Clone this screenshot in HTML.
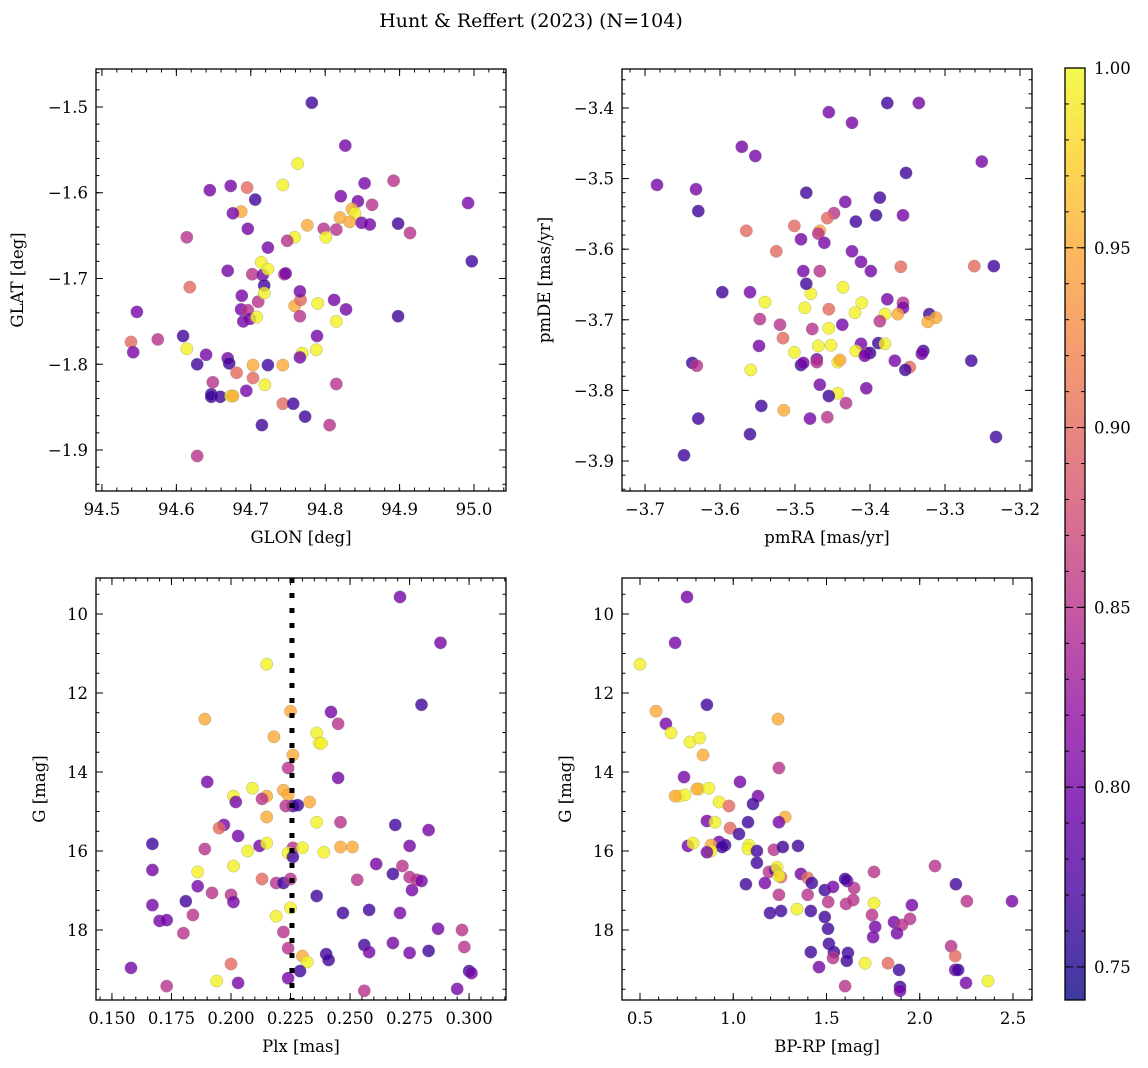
<!DOCTYPE html>
<html><head><meta charset="utf-8"><style>
body{margin:0;background:#fff;}
svg{display:block;font-family:"DejaVu Serif","Liberation Serif",serif;}
</style></head><body>
<svg id="fig" width="1148" height="1068" xmlns="http://www.w3.org/2000/svg">
<text x="531" y="27" font-size="19" text-anchor="middle">Hunt &amp; Reffert (2023) (N=104)</text>
</svg>
<script>
// ---- Panel 1: GLON vs GLAT ----
const p1_glon=[94.782,94.827,94.763,94.743,94.695,94.645,94.673,94.892,94.853,94.821,94.844,94.863,94.836,94.840,94.820,94.833,94.849,94.860,94.898,94.914,94.992,94.997,94.706,94.687,94.676,94.614,94.696,94.776,94.759,94.749,94.798,94.815,94.801,94.723,94.669,94.714,94.702,94.716,94.618,94.723,94.745,94.747,94.759,94.767,94.718,94.688,94.687,94.696,94.710,94.699,94.718,94.708,94.690,94.790,94.766,94.766,94.789,94.812,94.828,94.815,94.769,94.766,94.788,94.898,94.539,94.542,94.575,94.547,94.609,94.614,94.628,94.640,94.669,94.671,94.681,94.703,94.723,94.743,94.703,94.719,94.649,94.647,94.647,94.659,94.673,94.676,94.694,94.743,94.757,94.773,94.815,94.715,94.806,94.628];
const p1_glat=[-1.495,-1.545,-1.566,-1.591,-1.594,-1.597,-1.592,-1.586,-1.589,-1.604,-1.610,-1.614,-1.619,-1.624,-1.629,-1.634,-1.635,-1.637,-1.636,-1.647,-1.612,-1.680,-1.608,-1.622,-1.624,-1.652,-1.642,-1.638,-1.652,-1.656,-1.642,-1.643,-1.652,-1.664,-1.691,-1.681,-1.695,-1.696,-1.710,-1.689,-1.695,-1.694,-1.732,-1.725,-1.708,-1.720,-1.736,-1.737,-1.727,-1.747,-1.717,-1.745,-1.750,-1.729,-1.715,-1.744,-1.767,-1.725,-1.736,-1.750,-1.787,-1.792,-1.783,-1.744,-1.774,-1.786,-1.771,-1.739,-1.767,-1.782,-1.800,-1.789,-1.793,-1.799,-1.810,-1.801,-1.801,-1.801,-1.816,-1.824,-1.821,-1.835,-1.838,-1.838,-1.837,-1.837,-1.831,-1.846,-1.846,-1.861,-1.823,-1.871,-1.871,-1.907];
const p1_prob=[0.765,0.80,0.995,0.995,0.90,0.80,0.80,0.85,0.80,0.80,0.80,0.85,0.95,0.995,0.95,0.95,0.80,0.80,0.765,0.85,0.80,0.765,0.765,0.95,0.80,0.85,0.80,0.95,0.995,0.85,0.85,0.85,0.995,0.80,0.80,0.995,0.85,0.80,0.90,0.995,0.85,0.80,0.95,0.90,0.765,0.80,0.80,0.85,0.85,0.80,0.995,0.995,0.80,0.995,0.80,0.85,0.80,0.80,0.80,0.995,0.995,0.80,0.995,0.765,0.90,0.80,0.85,0.80,0.765,0.995,0.765,0.80,0.80,0.765,0.90,0.95,0.765,0.95,0.90,0.995,0.85,0.765,0.765,0.765,0.995,0.95,0.80,0.90,0.765,0.765,0.85,0.765,0.85,0.85];
// ---- Panel 2: pmRA vs pmDE ----
const p2_pmra=[-3.684,-3.632,-3.629,-3.571,-3.553,-3.455,-3.424,-3.377,-3.335,-3.251,-3.352,-3.485,-3.433,-3.387,-3.392,-3.356,-3.448,-3.457,-3.419,-3.565,-3.501,-3.467,-3.469,-3.492,-3.461,-3.525,-3.424,-3.412,-3.399,-3.261,-3.235,-3.359,-3.489,-3.467,-3.436,-3.479,-3.485,-3.560,-3.540,-3.597,-3.411,-3.377,-3.356,-3.356,-3.487,-3.455,-3.420,-3.380,-3.363,-3.321,-3.312,-3.323,-3.437,-3.387,-3.520,-3.455,-3.477,-3.547,-3.516,-3.389,-3.380,-3.412,-3.452,-3.469,-3.501,-3.419,-3.405,-3.400,-3.407,-3.329,-3.331,-3.548,-3.471,-3.443,-3.440,-3.492,-3.489,-3.471,-3.367,-3.347,-3.353,-3.265,-3.637,-3.631,-3.559,-3.467,-3.405,-3.443,-3.455,-3.432,-3.457,-3.480,-3.629,-3.545,-3.515,-3.560,-3.232,-3.648];
const p2_pmde=[-3.509,-3.515,-3.546,-3.455,-3.468,-3.406,-3.421,-3.393,-3.393,-3.476,-3.492,-3.520,-3.533,-3.527,-3.552,-3.552,-3.549,-3.556,-3.561,-3.574,-3.567,-3.574,-3.578,-3.586,-3.591,-3.603,-3.603,-3.618,-3.631,-3.624,-3.624,-3.625,-3.631,-3.631,-3.654,-3.663,-3.649,-3.661,-3.675,-3.661,-3.676,-3.671,-3.676,-3.683,-3.683,-3.685,-3.690,-3.692,-3.692,-3.692,-3.697,-3.703,-3.707,-3.702,-3.707,-3.712,-3.713,-3.699,-3.726,-3.733,-3.734,-3.734,-3.736,-3.737,-3.746,-3.744,-3.747,-3.747,-3.751,-3.744,-3.748,-3.737,-3.756,-3.760,-3.757,-3.764,-3.761,-3.760,-3.758,-3.767,-3.771,-3.758,-3.761,-3.765,-3.771,-3.792,-3.797,-3.804,-3.808,-3.818,-3.838,-3.840,-3.840,-3.822,-3.828,-3.862,-3.866,-3.892];
const p2_prob=[0.80,0.80,0.765,0.80,0.80,0.80,0.80,0.765,0.80,0.80,0.765,0.765,0.80,0.765,0.765,0.80,0.85,0.90,0.765,0.90,0.90,0.95,0.85,0.80,0.80,0.90,0.80,0.80,0.80,0.90,0.765,0.90,0.80,0.85,0.995,0.995,0.765,0.80,0.995,0.765,0.995,0.80,0.85,0.80,0.995,0.90,0.995,0.995,0.95,0.765,0.95,0.95,0.80,0.85,0.85,0.995,0.85,0.85,0.90,0.765,0.995,0.80,0.995,0.995,0.995,0.995,0.85,0.765,0.80,0.765,0.80,0.80,0.80,0.995,0.95,0.765,0.80,0.85,0.80,0.90,0.765,0.765,0.765,0.85,0.995,0.80,0.80,0.995,0.765,0.85,0.85,0.80,0.765,0.765,0.95,0.765,0.765,0.765];
// ---- Panel 3: Plx vs G ----
const p3_plx=[0.271,0.288,0.215,0.280,0.189,0.225,0.242,0.245,0.218,0.236,0.237,0.238,0.224,0.226,0.190,0.245,0.209,0.201,0.222,0.215,0.224,0.233,0.213,0.202,0.226,0.228,0.223,0.215,0.236,0.246,0.197,0.195,0.203,0.283,0.212,0.215,0.226,0.189,0.167,0.207,0.224,0.226,0.239,0.230,0.246,0.251,0.275,0.269,0.261,0.272,0.275,0.268,0.253,0.167,0.201,0.186,0.186,0.192,0.200,0.201,0.213,0.219,0.222,0.225,0.236,0.276,0.278,0.280,0.181,0.167,0.219,0.225,0.184,0.247,0.258,0.271,0.170,0.173,0.180,0.222,0.287,0.297,0.224,0.298,0.240,0.256,0.258,0.268,0.275,0.283,0.230,0.232,0.241,0.200,0.224,0.229,0.300,0.301,0.158,0.173,0.194,0.203,0.256,0.295];
const p3_g=[9.57,10.73,11.27,12.30,12.66,12.46,12.48,12.78,13.11,13.01,13.27,13.27,13.90,13.57,14.25,14.15,14.41,14.61,14.46,14.61,14.58,14.76,14.68,14.76,14.86,14.84,14.86,15.14,15.27,15.27,15.34,15.42,15.62,15.47,15.87,15.80,15.92,15.95,15.82,16.00,16.05,16.15,16.03,15.92,15.90,15.90,15.87,15.34,16.33,16.38,16.66,16.58,16.73,16.48,16.38,16.53,16.89,17.06,17.11,17.29,16.71,16.81,16.81,16.71,17.14,16.99,16.73,16.76,17.27,17.37,17.65,17.44,17.62,17.57,17.49,17.57,17.77,17.75,18.08,18.05,17.97,18.00,18.46,18.43,18.61,18.38,18.56,18.33,18.58,18.53,18.66,18.81,18.76,18.86,19.22,19.04,19.04,19.09,18.96,19.42,19.29,19.34,19.54,19.49];
const p3_prob=[0.80,0.80,0.995,0.765,0.95,0.95,0.80,0.85,0.95,0.995,0.995,0.995,0.85,0.95,0.80,0.80,0.995,0.995,0.95,0.95,0.95,0.95,0.85,0.80,0.765,0.765,0.85,0.95,0.995,0.85,0.80,0.90,0.80,0.80,0.80,0.995,0.85,0.85,0.765,0.995,0.995,0.765,0.995,0.995,0.95,0.95,0.80,0.765,0.80,0.85,0.85,0.765,0.85,0.80,0.995,0.995,0.80,0.85,0.85,0.80,0.90,0.85,0.765,0.85,0.765,0.80,0.85,0.80,0.765,0.80,0.995,0.995,0.85,0.765,0.765,0.80,0.80,0.80,0.85,0.85,0.80,0.85,0.85,0.85,0.765,0.765,0.80,0.80,0.80,0.765,0.95,0.995,0.765,0.90,0.80,0.765,0.765,0.80,0.80,0.85,0.995,0.80,0.85,0.80];
const p3_plxRef=[0.2256];
// ---- Panel 4: BP-RP vs G ----
const p4_bprp=[0.752,0.688,0.500,0.859,0.586,1.240,0.639,0.666,0.768,0.820,0.838,1.245,0.736,1.036,0.816,0.869,0.805,0.709,0.741,0.688,1.133,0.924,0.977,1.106,1.278,1.245,1.079,0.859,0.902,0.983,1.031,0.924,0.757,0.784,0.881,1.084,0.956,0.940,0.881,0.859,1.079,1.127,1.218,1.266,1.347,1.127,1.192,1.224,1.235,1.068,1.170,1.256,1.245,1.363,1.399,1.421,1.491,1.535,1.648,1.611,1.600,1.755,2.082,2.194,1.605,1.399,1.245,1.509,1.643,1.755,1.342,1.416,1.256,1.197,1.491,1.744,1.958,2.253,2.495,1.948,1.761,1.862,1.905,1.878,1.750,1.508,1.513,1.540,1.615,1.609,1.416,1.535,1.460,1.707,1.830,2.168,2.190,2.190,1.889,2.206,2.248,2.366,1.894,1.894,1.600];
const p4_g=[9.57,10.73,11.27,12.30,12.46,12.66,12.78,13.01,13.24,13.14,13.57,13.90,14.13,14.25,14.43,14.41,14.43,14.61,14.58,14.61,14.61,14.76,14.86,14.81,15.14,15.27,15.27,15.24,15.27,15.42,15.57,15.77,15.87,15.80,15.85,15.85,15.85,15.90,16.00,16.03,15.95,16.00,15.97,15.90,15.87,16.30,16.53,16.48,16.41,16.84,16.81,16.66,16.63,16.58,16.68,16.81,16.99,16.91,16.94,16.76,16.71,16.53,16.38,16.84,17.34,17.11,17.11,17.29,17.24,17.32,17.47,17.52,17.52,17.57,17.67,17.62,17.37,17.27,17.27,17.72,17.92,17.80,17.87,18.08,18.18,17.97,18.35,18.56,18.58,18.78,18.56,18.71,18.94,18.84,18.84,18.41,18.66,19.01,19.01,19.01,19.34,19.29,19.44,19.54,19.42];
const p4_prob=[0.80,0.80,0.995,0.765,0.95,0.95,0.80,0.995,0.995,0.995,0.95,0.85,0.80,0.80,0.995,0.995,0.95,0.995,0.995,0.95,0.80,0.995,0.90,0.765,0.95,0.80,0.765,0.80,0.995,0.90,0.765,0.80,0.80,0.995,0.95,0.995,0.765,0.765,0.995,0.80,0.995,0.765,0.85,0.765,0.765,0.765,0.85,0.80,0.995,0.765,0.80,0.90,0.995,0.80,0.90,0.765,0.765,0.80,0.85,0.80,0.765,0.85,0.85,0.765,0.85,0.85,0.85,0.85,0.85,0.995,0.995,0.765,0.765,0.765,0.765,0.85,0.80,0.85,0.80,0.85,0.80,0.80,0.85,0.80,0.80,0.765,0.765,0.765,0.765,0.765,0.765,0.85,0.80,0.995,0.90,0.85,0.90,0.80,0.765,0.765,0.80,0.995,0.765,0.80,0.85];
// ---- Colorbar ----
const cbTicks=[0.75,0.80,0.85,0.90,0.95,1.00];
const cbMin=0.7408, cbMax=1.0;

const NS="http://www.w3.org/2000/svg";
const svg=document.getElementById('fig');
function mk(tag,attrs,parent){const e=document.createElementNS(NS,tag);for(const k in attrs)e.setAttribute(k,attrs[k]);(parent||svg).appendChild(e);return e;}
const stops=["#0d0887","#41049d","#6a00a8","#8f0da4","#b12a90","#cc4778","#e16462","#f2844b","#fca636","#fcce25","#f0f921"];
function hex(h){return [1,3,5].map(i=>parseInt(h.substr(i,2),16));}
function plasma(t){t=Math.max(0,Math.min(1,t));const f=t*10,i=Math.min(9,Math.floor(f)),r=f-i;const a=hex(stops[i]),b=hex(stops[i+1]);return "rgb("+a.map((v,k)=>Math.round(v+(b[k]-v)*r)).join(",")+")";}
function cval(v){return plasma((v-cbMin)/(cbMax-cbMin));}
function fmtNum(v,d){return (v<0?"\u2212":"")+Math.abs(v).toFixed(d);}

function panel(cfg){
  const {name,x0,x1,y0,y1,xmin,xmax,ymin,ymax,invert}=cfg;
  const g=mk('g',{});
  
  
  const sx=v=>x0+(v-xmin)/(xmax-xmin)*(x1-x0);
  const sy=v=>invert? y0+(v-ymin)/(ymax-ymin)*(y1-y0) : y1-(v-ymin)/(ymax-ymin)*(y1-y0);
  const pts=mk('g',{},g);
  
  
  cfg.xs.forEach((xv,i)=>{
    const c=mk('circle',{cx:sx(xv).toFixed(1),cy:sy(cfg.ys[i]).toFixed(1),r:6.2,fill:cval(cfg.cs[i]),'fill-opacity':0.8,stroke:'#888','stroke-width':0.5,'stroke-opacity':0.6},pts);
    
    
  });
  if(cfg.vline){cfg.vline.forEach(v=>{
    const l=mk('line',{x1:sx(v),x2:sx(v),y1:y0,y2:y1,stroke:'#000','stroke-width':5,'stroke-dasharray':'5,10'},g);
    
    
  });}
  const fr=mk('rect',{x:x0,y:y0,width:x1-x0,height:y1-y0,fill:'none',stroke:'#000','stroke-width':1.3},g);
  
  
  const tk=mk('g',{stroke:'#000','stroke-width':1},g);
  cfg.xmin_t.forEach(v=>{const p=sx(v);if(p<x0||p>x1)return;mk('line',{x1:p,x2:p,y1:y1,y2:y1-3.5},tk);mk('line',{x1:p,x2:p,y1:y0,y2:y0+3.5},tk);});
  cfg.ymin_t.forEach(v=>{const p=sy(v);if(p<y0||p>y1)return;mk('line',{x1:x0,x2:x0+3.5,y1:p,y2:p},tk);mk('line',{x1:x1,x2:x1-3.5,y1:p,y2:p},tk);});
  cfg.xt.forEach(v=>{const p=sx(v);mk('line',{x1:p,x2:p,y1:y1,y2:y1-7},tk);mk('line',{x1:p,x2:p,y1:y0,y2:y0+7},tk);
    const t=mk('text',{x:p,y:y1+24,'font-size':16.5,'text-anchor':'middle'},g);t.textContent=fmtNum(v,cfg.xd);
    
    });
  cfg.yt.forEach(v=>{const p=sy(v);mk('line',{x1:x0,x2:x0+7,y1:p,y2:p},tk);mk('line',{x1:x1,x2:x1-7,y1:p,y2:p},tk);
    const t=mk('text',{x:x0-8,y:p+6,'font-size':16.5,'text-anchor':'end'},g);t.textContent=fmtNum(v,cfg.yd);
    
    });
  const xl=mk('text',{x:(x0+x1)/2,y:y1+52,'font-size':16.5,'text-anchor':'middle'},g);xl.textContent=cfg.xlabel;
  
  
  const ylx=cfg.ylx, yly=(y0+y1)/2;
  const yl=mk('text',{x:ylx,y:yly,'font-size':16.5,'text-anchor':'middle',transform:`rotate(-90 ${ylx} ${yly})`},g);yl.textContent=cfg.ylabel;
  
  
}
function rng(a,b,s){const r=[];for(let v=a;v<=b+1e-9;v+=s)r.push(+v.toFixed(6));return r;}

panel({name:'glon-glat-panel',x0:96,x1:506,y0:69,y1:491,xmin:94.492,xmax:95.043,ymin:-1.9478,ymax:-1.4557,
  xs:p1_glon,ys:p1_glat,cs:p1_prob,xt:rng(94.5,95.0,0.1),xd:1,yt:[-1.9,-1.8,-1.7,-1.6,-1.5],yd:1,
  xmin_t:rng(94.48,95.04,0.02),ymin_t:rng(-1.96,-1.44,0.02),xlabel:'GLON [deg]',ylabel:'GLAT [deg]',ylx:23});
panel({name:'pmra-pmde-panel',x0:622,x1:1032,y0:69,y1:491,xmin:-3.7307,xmax:-3.184,ymin:-3.9425,ymax:-3.3448,
  xs:p2_pmra,ys:p2_pmde,cs:p2_prob,xt:rng(-3.7,-3.2,0.1),xd:1,yt:rng(-3.9,-3.4,0.1),yd:1,
  xmin_t:rng(-3.74,-3.18,0.02),ymin_t:rng(-3.96,-3.34,0.02),xlabel:'pmRA [mas/yr]',ylabel:'pmDE [mas/yr]',ylx:550});
panel({name:'plx-g-panel',x0:96,x1:506,y0:578,y1:1000,xmin:0.1433,xmax:0.3155,ymin:9.089,ymax:19.772,invert:true,
  xs:p3_plx,ys:p3_g,cs:p3_prob,xt:rng(0.15,0.30,0.025),xd:3,yt:[10,12,14,16,18],yd:0,vline:p3_plxRef,
  xmin_t:rng(0.14,0.32,0.005),ymin_t:rng(9,20,0.5),xlabel:'Plx [mas]',ylabel:'G [mag]',ylx:45});
panel({name:'bprp-g-panel',x0:622,x1:1032,y0:578,y1:1000,xmin:0.4035,xmax:2.602,ymin:9.089,ymax:19.772,invert:true,
  xs:p4_bprp,ys:p4_g,cs:p4_prob,xt:rng(0.5,2.5,0.5),xd:1,yt:[10,12,14,16,18],yd:0,
  xmin_t:rng(0.4,2.6,0.1),ymin_t:rng(9,20,0.5),xlabel:'BP-RP [mag]',ylabel:'G [mag]',ylx:571});

(function(){
  const cx=1065,cw=20,cy0=68,cy1=1000;
  const g=mk('g',{});
  
  
  const defs=mk('defs',{},g);
  const lg=mk('linearGradient',{id:'cbg',x1:0,y1:1,x2:0,y2:0},defs);
  for(let i=0;i<=20;i++){mk('stop',{offset:(i/20),'stop-color':plasma(i/20),'stop-opacity':0.8},lg);}
  mk('rect',{x:cx,y:cy0,width:cw,height:cy1-cy0,fill:'url(#cbg)',stroke:'#000','stroke-width':1.3},g);
  const sy=v=>cy1-(v-cbMin)/(cbMax-cbMin)*(cy1-cy0);
  for(let v=0.75;v<=1.0001;v+=0.01){const p=sy(v);mk('line',{x1:cx+cw,x2:cx+cw-4,y1:p,y2:p,stroke:'#000'},g);mk('line',{x1:cx,x2:cx+4,y1:p,y2:p,stroke:'#000'},g);}
  cbTicks.forEach(v=>{const p=sy(v);mk('line',{x1:cx+cw,x2:cx+cw-8,y1:p,y2:p,stroke:'#000'},g);mk('line',{x1:cx,x2:cx+8,y1:p,y2:p,stroke:'#000'},g);
    const t=mk('text',{x:cx+cw+9,y:p+6,'font-size':16.5},g);t.textContent=v.toFixed(2);
    
    });
})();
</script>
</body></html>
